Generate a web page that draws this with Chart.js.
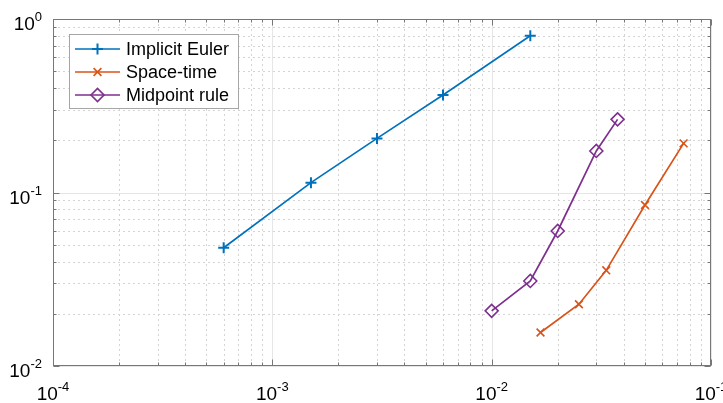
<!DOCTYPE html>
<html>
<head>
<meta charset="utf-8">
<script src="https://cdn.jsdelivr.net/npm/chart.js@4"></script>
<style>
  html, body { margin: 0; padding: 0; background: #fff; }
  #wrap { width: 723px; height: 403px; }
</style>
</head>
<body>
<div id="wrap"><canvas id="errChart" width="723" height="403"></canvas></div>
<script>
// series (log-log error plot)
const seriesNames = ['Implicit Euler', 'Space-time', 'Midpoint rule'];
const eulerX = [6e-4, 1.5e-3, 3e-3, 6e-3, 1.5e-2];
const eulerY = [0.048, 0.114, 0.205, 0.365, 0.80];
const spaceTimeX = [0.0167, 0.025, 0.0333, 0.05, 0.075];
const spaceTimeY = [0.0156, 0.0227, 0.0356, 0.0847, 0.192];
const midpointX = [0.01, 0.015, 0.02, 0.03, 0.0375];
const midpointY = [0.0208, 0.0309, 0.060, 0.1735, 0.264];
const xTickExps = [-4, -3, -2, -1];
const yTickExps = [-2, -1, 0];

const colors = ['#0072BD', '#D95319', '#7E2F8E'];
const styles = [
    { pointStyle: 'cross', radius: 5.5, borderWidth: 2 },
    { pointStyle: 'crossRot', radius: 5.5, borderWidth: 1.6 },
    { pointStyle: 'rectRot', radius: 6.5, borderWidth: 1.6 }
];
const AXIS = '#777777';
const FONT = '"Liberation Sans", Arial, sans-serif';

function pts(xs, ys) {
    return xs.map((x, i) => ({ x: x, y: ys[i] }));
}

// 1..9 x 10^e for each decade, plus the last power
function logTicks(exps) {
    const out = [];
    for (let i = 0; i < exps.length - 1; i++) {
        for (let k = 1; k <= 9; k++) out.push({ v: k * Math.pow(10, exps[i]), major: k === 1 });
    }
    out.push({ v: Math.pow(10, exps[exps.length - 1]), major: true });
    return out;
}

function drawPow(ctx, exp, x, y, mode) {
    // mode 'x': centred under tick, 'y': right aligned left of axis
    const base = '10', sup = String(exp);
    ctx.font = '19px ' + FONT;
    const wb = ctx.measureText(base).width;
    ctx.font = '13px ' + FONT;
    const ws = ctx.measureText(sup).width;
    let left;
    if (mode === 'x') left = x - (wb + ws) / 2;
    else left = x - wb - ws;
    ctx.fillStyle = '#000';
    ctx.textAlign = 'left';
    ctx.textBaseline = 'alphabetic';
    ctx.font = '19px ' + FONT;
    ctx.fillText(base, left, y);
    ctx.font = '13px ' + FONT;
    ctx.fillText(sup, left + wb, y - 9);
}

const matlabAxes = {
    id: 'matlabAxes',
    beforeDatasetsDraw(chart) {
        const ctx = chart.ctx, a = chart.chartArea;
        const xs = chart.scales.x, ys = chart.scales.y;
        ctx.save();
        ctx.lineWidth = 1;
        logTicks(xTickExps).forEach(t => {
            const px = Math.round(xs.getPixelForValue(t.v)) + 0.5;
            ctx.beginPath();
            ctx.setLineDash(t.major ? [] : [2, 3]);
            ctx.strokeStyle = t.major ? '#e6e6e6' : '#d4d4d4';
            ctx.moveTo(px, a.top); ctx.lineTo(px, a.bottom);
            ctx.stroke();
        });
        logTicks(yTickExps).forEach(t => {
            const py = Math.round(ys.getPixelForValue(t.v)) + 0.5;
            ctx.beginPath();
            ctx.setLineDash(t.major ? [] : [2, 3]);
            ctx.strokeStyle = t.major ? '#e6e6e6' : '#d4d4d4';
            ctx.moveTo(a.left, py); ctx.lineTo(a.right, py);
            ctx.stroke();
        });
        ctx.restore();
    },
    afterDraw(chart) {
        const ctx = chart.ctx, a = chart.chartArea;
        const xs = chart.scales.x, ys = chart.scales.y;
        ctx.save();
        ctx.setLineDash([]);
        ctx.strokeStyle = AXIS;
        ctx.lineWidth = 1;
        const L = Math.round(a.left) + 0.5, R = Math.round(a.right) - 0.5;
        const T = Math.round(a.top) + 0.5, B = Math.round(a.bottom) - 0.5;
        ctx.strokeRect(L, T, R - L, B - T);

        // inward ticks on all four sides
        logTicks(xTickExps).forEach(t => {
            const px = Math.round(xs.getPixelForValue(t.v)) + 0.5;
            const len = t.major ? 6 : 3;
            ctx.beginPath();
            ctx.moveTo(px, B); ctx.lineTo(px, B - len);
            ctx.moveTo(px, T); ctx.lineTo(px, T + len);
            ctx.stroke();
        });
        logTicks(yTickExps).forEach(t => {
            const py = Math.round(ys.getPixelForValue(t.v)) + 0.5;
            const len = t.major ? 6 : 3;
            ctx.beginPath();
            ctx.moveTo(L, py); ctx.lineTo(L + len, py);
            ctx.moveTo(R, py); ctx.lineTo(R - len, py);
            ctx.stroke();
        });

        // tick labels
        xTickExps.forEach(e => {
            drawPow(ctx, e, xs.getPixelForValue(Math.pow(10, e)), a.bottom + 34, 'x');
        });
        yTickExps.forEach(e => {
            drawPow(ctx, e, a.left - 11, ys.getPixelForValue(Math.pow(10, e)) + 11, 'y');
        });

        // legend box
        const bx = 69.5, by = 34.5, bw = 169, bh = 74;
        ctx.fillStyle = '#fff';
        ctx.fillRect(bx, by, bw, bh);
        ctx.strokeStyle = '#a6a6a6';
        ctx.lineWidth = 1;
        ctx.strokeRect(bx, by, bw, bh);
        chart.data.datasets.forEach((ds, i) => {
            const ry = 49 + i * 23;
            ctx.strokeStyle = ds.borderColor;
            ctx.lineWidth = 1.7;
            ctx.beginPath();
            ctx.moveTo(75, ry); ctx.lineTo(120, ry);
            ctx.stroke();
            ctx.fillStyle = 'rgba(0,0,0,0)';
            ctx.lineWidth = styles[i].borderWidth;
            Chart.helpers.drawPoint(ctx, {
                pointStyle: styles[i].pointStyle,
                radius: styles[i].radius,
                rotation: 0,
                borderWidth: styles[i].borderWidth
            }, 97.5, ry);
            ctx.fillStyle = '#000';
            ctx.font = '18px ' + FONT;
            ctx.textAlign = 'left';
            ctx.textBaseline = 'middle';
            ctx.fillText(ds.label, 126, ry + 1);
        });
        ctx.restore();
    }
};

function makeSet(i, xs, ys) {
    return {
        label: seriesNames[i],
        data: pts(xs, ys),
        borderColor: colors[i],
        backgroundColor: 'rgba(0,0,0,0)',
        borderWidth: 1.7,
        pointStyle: styles[i].pointStyle,
        pointRadius: styles[i].radius,
        pointBorderWidth: styles[i].borderWidth,
        pointBorderColor: colors[i],
        pointBackgroundColor: 'rgba(0,0,0,0)',
        fill: false,
        tension: 0
    };
}

const ctx = document.getElementById('errChart').getContext('2d');
const errChart = new Chart(ctx, {
    type: 'line',
    data: {
        datasets: [
            makeSet(0, eulerX, eulerY),
            makeSet(1, spaceTimeX, spaceTimeY),
            makeSet(2, midpointX, midpointY)
        ]
    },
    options: {
        responsive: false,
        animation: false,
        devicePixelRatio: 1,
        layout: { padding: { top: 19, right: 12, left: 0, bottom: 0 } },
        plugins: { legend: { display: false }, tooltip: { enabled: false } },
        scales: {
            x: {
                type: 'logarithmic',
                min: 1e-4,
                max: 1e-1,
                grid: { display: false },
                border: { display: false },
                ticks: { display: false },
                afterFit: s => { s.height = 37; }
            },
            y: {
                type: 'logarithmic',
                min: 1e-2,
                max: 1,
                grid: { display: false },
                border: { display: false },
                ticks: { display: false },
                afterFit: s => { s.width = 53; }
            }
        }
    },
    plugins: [matlabAxes]
});
</script>
</body>
</html>
